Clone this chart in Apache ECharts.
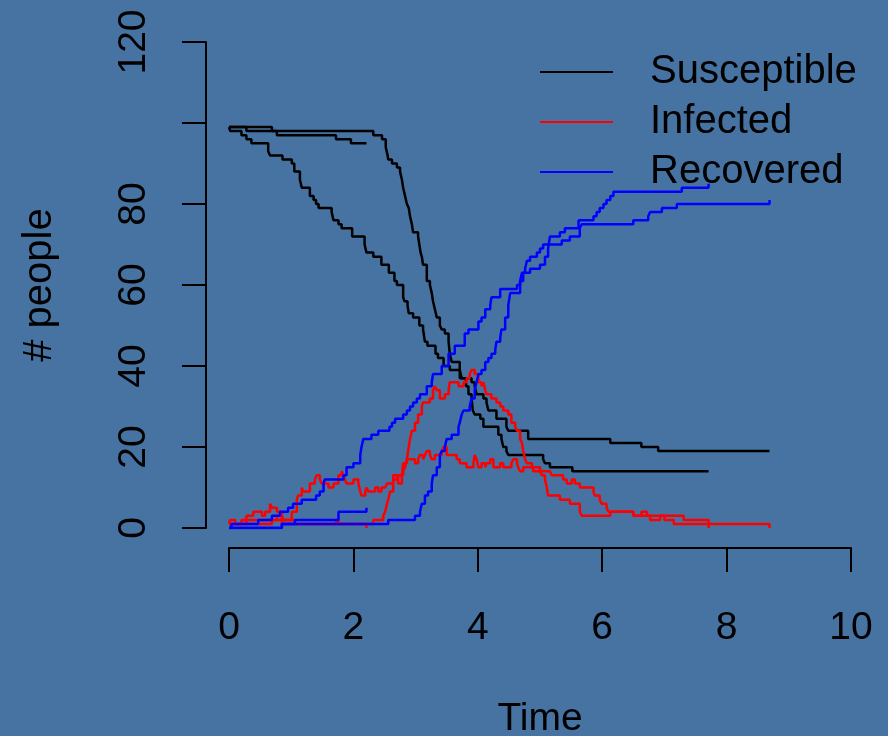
<!DOCTYPE html>
<html>
<head>
<meta charset="utf-8">
<script src="https://cdn.jsdelivr.net/npm/echarts@6/dist/echarts.min.js"></script>
<style>
html,body{margin:0;padding:0;background:#4673a2;}
#chart{width:888px;height:736px;}
</style>
</head>
<body>
<div id="chart"></div>
<script>
// ---- data: [time, count] change points of three stochastic SIR runs ----
const xTicks = [0, 2, 4, 6, 8, 10];
const yTicks = [0, 20, 40, 60, 80, 100, 120];
const yHiddenLabels = [100];
const legendNames = ['Susceptible', 'Infected', 'Recovered'];

// run A (dies out early)
const susceptibleA = [[0,99],[0.69,98],[0.77,97],[1.72,96],[1.96,95],[2.21,95]];
const infectedA = [[0,1],[0.69,2],[0.77,3],[0.85,2],[1.06,1],[1.72,2],[1.76,1],[2.21,0]];
const recoveredA = [[0,0],[0.85,1],[1.06,2],[1.76,4],[2.21,5]];

// run B (early, slow epidemic)
const susceptibleB = [[0,99],[0.02,98],[0.2,97],[0.28,96],[0.36,95],[0.63,93],[0.66,92],[0.86,91],[1.01,90],[1.05,88],[1.14,86],[1.17,84],[1.30,82],[1.36,81],[1.40,80],[1.44,79],[1.65,78],[1.68,76],[1.76,75],[1.81,74],[1.98,72],[2.18,70],[2.21,68],[2.32,67],[2.45,65],[2.57,63],[2.66,61],[2.70,60],[2.80,57],[2.82,56],[2.87,55],[2.89,53],[2.96,52],[3.06,50],[3.12,49],[3.15,46],[3.19,45],[3.32,43],[3.36,42],[3.45,40],[3.55,39],[3.71,37],[3.90,36],[3.95,35],[3.98,33],[4.09,32],[4.14,31],[4.17,29],[4.30,27],[4.46,25],[4.49,24],[4.81,22],[6.13,21],[6.63,20],[6.90,19],[8.69,19]];
const infectedB = [[0,1],[0.02,2],[0.10,1],[0.20,2],[0.28,3],[0.39,4],[0.53,3],[0.58,4],[0.66,6],[0.69,5],[0.77,4],[0.85,3],[0.87,2],[1.01,4],[1.09,7],[1.11,8],[1.17,10],[1.19,9],[1.30,11],[1.38,12],[1.41,13],[1.46,12],[1.49,11],[1.60,10],[1.68,11],[1.76,13],[1.81,14],[1.84,13],[1.86,12],[1.89,11],[2.0,12],[2.08,11],[2.11,9],[2.13,8],[2.19,9],[2.21,10],[2.24,9],[2.35,10],[2.40,9],[2.45,10],[2.51,10],[2.54,11],[2.64,13],[2.72,11],[2.78,13],[2.80,16],[2.86,17],[2.99,16],[3.04,17],[3.07,18],[3.12,17],[3.15,18],[3.18,19],[3.23,18],[3.26,17],[3.31,18],[3.42,19],[3.45,20],[3.50,18],[3.58,18],[3.66,17],[3.71,16],[3.82,15],[3.93,16],[3.95,18],[3.98,17],[4.01,15],[4.06,16],[4.12,15],[4.14,16],[4.20,17],[4.25,15],[4.36,16],[4.41,15],[4.54,16],[4.57,17],[4.63,16],[4.65,15],[4.68,14],[4.73,15],[4.89,14],[5.16,14],[5.19,13],[5.37,12],[5.43,11],[5.51,12],[5.56,11],[5.64,10],[5.86,9],[5.88,8],[5.96,7],[5.99,6],[6.07,5],[6.10,4],[6.50,3],[7.00,2],[7.15,1],[8.69,0]];
const recoveredB = [[0,0],[0.04,1],[0.47,2],[0.69,3],[0.82,4],[0.95,5],[1.03,6],[1.17,7],[1.40,8],[1.46,9],[1.52,11],[1.54,12],[1.84,13],[1.89,15],[2.0,16],[2.11,18],[2.13,20],[2.16,22],[2.29,23],[2.40,24],[2.58,25],[2.62,26],[2.67,27],[2.80,28],[2.86,29],[2.91,30],[2.96,31],[3.02,32],[3.07,33],[3.18,35],[3.26,36],[3.28,38],[3.42,40],[3.53,43],[3.63,45],[3.79,48],[3.85,49],[4.01,51],[4.06,52],[4.12,54],[4.20,55],[4.22,57],[4.36,59],[4.63,60],[4.68,61],[4.71,63],[4.76,64],[4.79,66],[4.84,67],[4.95,68],[5.0,69],[5.05,70],[5.35,71],[5.48,72],[5.64,74],[5.67,75],[6.50,76],[6.74,77],[6.77,78],[6.96,79],[7.20,80],[8.69,81]];

// run C (late, fast epidemic)
const susceptibleC = [[0,99],[0.28,98],[2.32,97],[2.46,96],[2.52,94],[2.55,92],[2.56,91],[2.62,90],[2.70,89],[2.75,88],[2.78,86],[2.80,84],[2.83,82],[2.86,80],[2.89,79],[2.91,77],[2.94,75],[2.96,73],[3.04,72],[3.06,70],[3.08,68],[3.10,67],[3.12,65],[3.18,61],[3.23,60],[3.26,58],[3.28,56],[3.31,54],[3.34,52],[3.39,50],[3.42,49],[3.47,48],[3.53,46],[3.55,43],[3.58,41],[3.71,39],[3.74,37],[3.81,35],[3.85,33],[3.90,32],[3.92,29],[3.95,28],[4.04,27],[4.09,25],[4.33,23],[4.38,22],[4.41,20],[4.46,19],[4.49,18],[5.05,17],[5.08,16],[5.16,15],[5.52,14],[7.71,14]];
const infectedC = [[0,1],[0.28,2],[0.85,1],[2.32,2],[2.48,3],[2.51,4],[2.54,6],[2.56,7],[2.59,9],[2.64,12],[2.70,13],[2.80,14],[2.83,15],[2.86,17],[2.88,19],[2.91,22],[2.94,24],[2.99,26],[3.04,28],[3.10,30],[3.12,31],[3.23,32],[3.28,34],[3.31,35],[3.34,34],[3.39,32],[3.47,33],[3.53,34],[3.55,36],[3.69,35],[3.77,36],[3.82,37],[3.87,38],[3.90,39],[3.95,38],[4.01,36],[4.06,35],[4.09,36],[4.12,34],[4.14,33],[4.22,32],[4.30,31],[4.36,30],[4.41,29],[4.49,28],[4.54,26],[4.60,25],[4.63,24],[4.68,22],[4.71,21],[4.73,19],[4.76,17],[4.79,16],[4.87,15],[5.0,14],[5.03,13],[5.08,12],[5.11,10],[5.13,8],[5.32,7],[5.48,6],[5.64,4],[5.67,3],[6.13,4],[6.50,3],[6.63,4],[6.72,3],[6.77,2],[6.93,3],[7.31,2],[7.71,0]];
const recoveredC = [[0,0],[0.85,1],[2.56,2],[2.99,3],[3.07,4],[3.10,6],[3.15,8],[3.20,9],[3.26,11],[3.28,13],[3.34,15],[3.39,18],[3.42,19],[3.47,20],[3.50,22],[3.58,23],[3.69,25],[3.71,26],[3.74,28],[3.77,29],[3.87,30],[3.90,32],[3.95,34],[3.98,36],[4.01,38],[4.06,39],[4.12,41],[4.17,42],[4.22,43],[4.28,44],[4.30,46],[4.36,47],[4.38,49],[4.44,52],[4.49,55],[4.52,58],[4.68,61],[4.73,63],[4.84,64],[5.0,65],[5.08,67],[5.13,69],[5.16,72],[5.32,73],[5.40,74],[5.62,76],[5.86,77],[5.91,78],[5.96,79],[6.02,80],[6.07,81],[6.13,82],[6.18,83],[7.28,84],[7.71,85]];

// ---- chart ----
const FONT = '"Liberation Sans", Arial, Helvetica, sans-serif';
const COLORS = {Susceptible: '#000000', Infected: '#ff0000', Recovered: '#0000ff'};

function stepSeries(name, data) {
  return {
    type: 'line', name: name, data: data, step: 'end',
    showSymbol: false, symbol: 'none', silent: true,
    lineStyle: {color: COLORS[name], width: 2.5},
    itemStyle: {color: COLORS[name]}
  };
}

const series = [
  stepSeries('Susceptible', susceptibleA),
  stepSeries('Susceptible', susceptibleB),
  stepSeries('Susceptible', susceptibleC),
  stepSeries('Infected', infectedA),
  stepSeries('Infected', infectedB),
  stepSeries('Infected', infectedC),
  stepSeries('Recovered', recoveredA),
  stepSeries('Recovered', recoveredB),
  stepSeries('Recovered', recoveredC)
];

const chart = echarts.init(document.getElementById('chart'), null, {renderer: 'canvas'});
chart.setOption({
  backgroundColor: '#4673a2',
  animation: false,
  textStyle: {fontFamily: FONT},
  grid: {left: 229, right: 37, top: 42, bottom: 208, containLabel: false, outerBoundsMode: 'none'},
  legend: {
    data: legendNames, orient: 'vertical', left: 540, top: 52, padding: 0,
    itemGap: 10, itemWidth: 73, itemHeight: 2, icon: 'rect',
    textStyle: {fontSize: 40, lineHeight: 40, color: '#000', fontFamily: FONT, padding: [0, 0, 0, 32]},
    selectedMode: false
  },
  xAxis: {
    type: 'value', min: xTicks[0], max: xTicks[xTicks.length - 1], interval: 2,
    offset: 20,
    name: 'Time', nameLocation: 'middle', nameGap: 152,
    nameTextStyle: {fontSize: 39, color: '#000', fontFamily: FONT},
    axisLine: {onZero: false, lineStyle: {color: '#000', width: 2}},
    axisTick: {length: 24, lineStyle: {color: '#000', width: 2}},
    axisLabel: {fontSize: 39, color: '#000', margin: 61, fontFamily: FONT},
    splitLine: {show: false}
  },
  yAxis: {
    type: 'value', min: yTicks[0], max: yTicks[yTicks.length - 1], interval: 20,
    offset: 23,
    name: '# people', nameLocation: 'middle', nameGap: 146, nameRotate: 90,
    nameTextStyle: {fontSize: 40, color: '#000', fontFamily: FONT},
    axisLine: {show: true, onZero: false, lineStyle: {color: '#000', width: 2}},
    axisTick: {show: true, length: 24, lineStyle: {color: '#000', width: 2}},
    axisLabel: {
      fontSize: 39, color: '#000', margin: 52, rotate: 90, fontFamily: FONT,
      formatter: function (v) { return yHiddenLabels.indexOf(v) >= 0 ? '' : String(v); }
    },
    splitLine: {show: false}
  },
  series: series
});
</script>
</body>
</html>
